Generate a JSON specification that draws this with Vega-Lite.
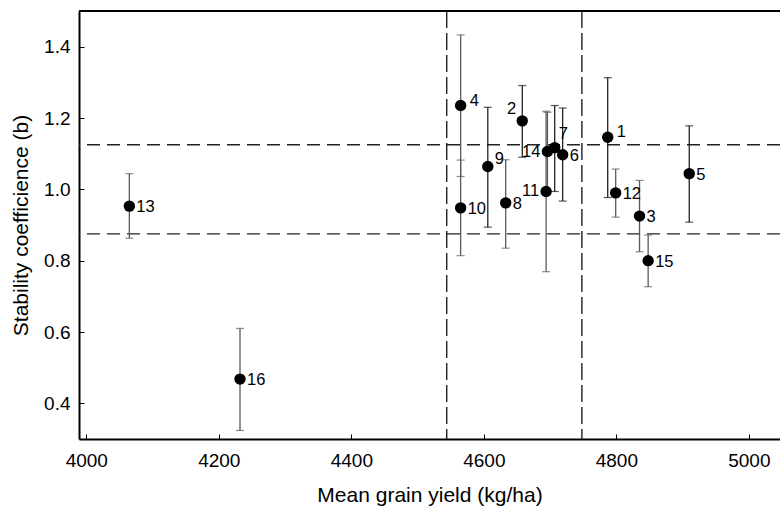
{
  "$schema": "https://vega.github.io/schema/vega-lite/v6.json",
  "autosize": {"type": "none"},
  "padding": {"left": 79, "top": 11, "right": 0, "bottom": 73},
  "width": 701,
  "height": 428,
  "background": "white",
  "config": {
    "view": {"stroke": null},
    "font": "Liberation Sans",
    "axis": {
      "domainColor": "#000", "domainWidth": 2, "tickColor": "#000", "tickWidth": 1, "tickSize": -5,
      "grid": false, "labelFont": "Liberation Sans", "labelFontSize": 19, "labelColor": "#000",
      "titleFont": "Liberation Sans", "titleFontSize": 21, "titleFontWeight": "normal", "titleColor": "#000"
    },
    "axisX": {"labelPadding": 17, "titlePadding": 14},
    "axisY": {"labelPadding": 14, "titlePadding": 12}
  },
  "data": {"values": [
    {"id": "1", "yield": 4787, "b": 1.146, "lo": 0.977, "hi": 1.313},
    {"id": "2", "yield": 4658, "b": 1.192, "lo": 1.090, "hi": 1.291},
    {"id": "3", "yield": 4835, "b": 0.925, "lo": 0.825, "hi": 1.025},
    {"id": "4", "yield": 4565, "b": 1.235, "lo": 1.036, "hi": 1.433},
    {"id": "5", "yield": 4910, "b": 1.044, "lo": 0.908, "hi": 1.178},
    {"id": "6", "yield": 4719, "b": 1.097, "lo": 0.967, "hi": 1.228},
    {"id": "7", "yield": 4707, "b": 1.117, "lo": 0.994, "hi": 1.235},
    {"id": "8", "yield": 4633, "b": 0.962, "lo": 0.835, "hi": 1.083},
    {"id": "9", "yield": 4606, "b": 1.064, "lo": 0.894, "hi": 1.230},
    {"id": "10", "yield": 4565, "b": 0.948, "lo": 0.814, "hi": 1.082},
    {"id": "11", "yield": 4694, "b": 0.994, "lo": 0.769, "hi": 1.219},
    {"id": "12", "yield": 4799, "b": 0.990, "lo": 0.922, "hi": 1.057},
    {"id": "13", "yield": 4065, "b": 0.953, "lo": 0.863, "hi": 1.044},
    {"id": "14", "yield": 4696, "b": 1.106, "lo": 0.996, "hi": 1.216},
    {"id": "15", "yield": 4848, "b": 0.800, "lo": 0.727, "hi": 0.872},
    {"id": "16", "yield": 4232, "b": 0.468, "lo": 0.324, "hi": 0.610}
  ]},
  "layer": [
    {
      "data": {"values": [{"h": 0.875}, {"h": 1.125}]},
      "mark": {"type": "rule", "color": "#222", "strokeWidth": 1.4, "strokeDash": [13, 7]},
      "encoding": {"y": {"field": "h", "type": "quantitative", "title": "Stability coefficience (b)", "scale": {"domain": [0.3, 1.5], "nice": false, "zero": false}}}
    },
    {
      "data": {"values": [{"v": 4544}, {"v": 4748}]},
      "mark": {"type": "rule", "color": "#222", "strokeWidth": 1.4, "strokeDash": [17, 5]},
      "encoding": {"x": {"field": "v", "type": "quantitative", "title": "Mean grain yield (kg/ha)", "scale": {"domain": [3989, 5047], "nice": false, "zero": false}}}
    },
    {
      "mark": {"type": "rule", "color": "#000", "strokeWidth": 2},
      "encoding": {"y": {"datum": 1.5, "type": "quantitative", "scale": {"domain": [0.3, 1.5], "nice": false, "zero": false}}}
    },
    {
      "transform": [{"filter": {"field": "id", "oneOf": ["1", "2", "5", "6", "7", "9"]}}],
      "layer": [
        {"mark": {"type": "rule", "color": "#111", "strokeWidth": 1.2},
         "encoding": {"x": {"field": "yield", "type": "quantitative", "title": "Mean grain yield (kg/ha)", "scale": {"domain": [3989, 5047], "nice": false, "zero": false}},
                      "y": {"field": "lo", "type": "quantitative", "title": "Stability coefficience (b)", "scale": {"domain": [0.3, 1.5], "nice": false, "zero": false}}, "y2": {"field": "hi"}}},
        {"mark": {"type": "tick", "color": "#111", "orient": "horizontal", "size": 8, "thickness": 1.2},
         "encoding": {"x": {"field": "yield", "type": "quantitative", "title": "Mean grain yield (kg/ha)", "scale": {"domain": [3989, 5047], "nice": false, "zero": false}},
                      "y": {"field": "lo", "type": "quantitative", "title": "Stability coefficience (b)", "scale": {"domain": [0.3, 1.5], "nice": false, "zero": false}}}},
        {"mark": {"type": "tick", "color": "#111", "orient": "horizontal", "size": 8, "thickness": 1.2},
         "encoding": {"x": {"field": "yield", "type": "quantitative", "title": "Mean grain yield (kg/ha)", "scale": {"domain": [3989, 5047], "nice": false, "zero": false}},
                      "y": {"field": "hi", "type": "quantitative", "title": "Stability coefficience (b)", "scale": {"domain": [0.3, 1.5], "nice": false, "zero": false}}}}
      ]
    },
    {
      "transform": [{"filter": {"field": "id", "oneOf": ["3", "4", "8", "10", "11", "12", "13", "14", "15", "16"]}}],
      "layer": [
        {"mark": {"type": "rule", "color": "#5a5a5a", "strokeWidth": 1.3},
         "encoding": {"x": {"field": "yield", "type": "quantitative", "title": "Mean grain yield (kg/ha)", "scale": {"domain": [3989, 5047], "nice": false, "zero": false}},
                      "y": {"field": "lo", "type": "quantitative", "title": "Stability coefficience (b)", "scale": {"domain": [0.3, 1.5], "nice": false, "zero": false}}, "y2": {"field": "hi"}}},
        {"mark": {"type": "tick", "color": "#5a5a5a", "orient": "horizontal", "size": 8, "thickness": 1.2},
         "encoding": {"x": {"field": "yield", "type": "quantitative", "title": "Mean grain yield (kg/ha)", "scale": {"domain": [3989, 5047], "nice": false, "zero": false}},
                      "y": {"field": "lo", "type": "quantitative", "title": "Stability coefficience (b)", "scale": {"domain": [0.3, 1.5], "nice": false, "zero": false}}}},
        {"mark": {"type": "tick", "color": "#5a5a5a", "orient": "horizontal", "size": 8, "thickness": 1.2},
         "encoding": {"x": {"field": "yield", "type": "quantitative", "title": "Mean grain yield (kg/ha)", "scale": {"domain": [3989, 5047], "nice": false, "zero": false}},
                      "y": {"field": "hi", "type": "quantitative", "title": "Stability coefficience (b)", "scale": {"domain": [0.3, 1.5], "nice": false, "zero": false}}}}
      ]
    },
    {
      "mark": {"type": "circle", "color": "#000", "opacity": 1, "size": 130},
      "encoding": {
        "x": {"field": "yield", "type": "quantitative", "title": "Mean grain yield (kg/ha)", "scale": {"domain": [3989, 5047], "nice": false, "zero": false},
              "axis": {"values": [4000, 4200, 4400, 4600, 4800, 5000], "format": "d"}},
        "y": {"field": "b", "type": "quantitative", "title": "Stability coefficience (b)", "scale": {"domain": [0.3, 1.5], "nice": false, "zero": false},
              "axis": {"values": [0.4, 0.6, 0.8, 1.0, 1.2, 1.4], "format": ".1f"}}
      }
    },
    {
      "transform": [{"filter": {"field": "id", "oneOf": ["3", "5", "6", "8", "10", "12", "13", "15", "16"]}}],
      "mark": {"type": "text", "align": "left", "baseline": "middle", "dx": 7, "dy": 1, "fontSize": 16.5, "color": "#000"},
      "encoding": {
        "x": {"field": "yield", "type": "quantitative", "scale": {"domain": [3989, 5047], "nice": false, "zero": false}},
        "y": {"field": "b", "type": "quantitative", "scale": {"domain": [0.3, 1.5], "nice": false, "zero": false}},
        "text": {"field": "id"}
      }
    },
    {
      "transform": [{"filter": {"field": "id", "oneOf": ["1", "4"]}}],
      "mark": {"type": "text", "align": "left", "baseline": "middle", "dx": 9, "dy": -5, "fontSize": 16.5, "color": "#000"},
      "encoding": {
        "x": {"field": "yield", "type": "quantitative", "scale": {"domain": [3989, 5047], "nice": false, "zero": false}},
        "y": {"field": "b", "type": "quantitative", "scale": {"domain": [0.3, 1.5], "nice": false, "zero": false}},
        "text": {"field": "id"}
      }
    },
    {
      "transform": [{"filter": {"field": "id", "oneOf": ["9"]}}],
      "mark": {"type": "text", "align": "left", "baseline": "middle", "dx": 7, "dy": -8, "fontSize": 16.5, "color": "#000"},
      "encoding": {
        "x": {"field": "yield", "type": "quantitative", "scale": {"domain": [3989, 5047], "nice": false, "zero": false}},
        "y": {"field": "b", "type": "quantitative", "scale": {"domain": [0.3, 1.5], "nice": false, "zero": false}},
        "text": {"field": "id"}
      }
    },
    {
      "transform": [{"filter": {"field": "id", "oneOf": ["7"]}}],
      "mark": {"type": "text", "align": "left", "baseline": "middle", "dx": 4, "dy": -14, "fontSize": 16.5, "color": "#000"},
      "encoding": {
        "x": {"field": "yield", "type": "quantitative", "scale": {"domain": [3989, 5047], "nice": false, "zero": false}},
        "y": {"field": "b", "type": "quantitative", "scale": {"domain": [0.3, 1.5], "nice": false, "zero": false}},
        "text": {"field": "id"}
      }
    },
    {
      "transform": [{"filter": {"field": "id", "oneOf": ["11", "14"]}}],
      "mark": {"type": "text", "align": "right", "baseline": "middle", "dx": -7, "dy": 0, "fontSize": 16.5, "color": "#000"},
      "encoding": {
        "x": {"field": "yield", "type": "quantitative", "scale": {"domain": [3989, 5047], "nice": false, "zero": false}},
        "y": {"field": "b", "type": "quantitative", "scale": {"domain": [0.3, 1.5], "nice": false, "zero": false}},
        "text": {"field": "id"}
      }
    },
    {
      "transform": [{"filter": {"field": "id", "oneOf": ["2"]}}],
      "mark": {"type": "text", "align": "right", "baseline": "middle", "dx": -6, "dy": -12, "fontSize": 16.5, "color": "#000"},
      "encoding": {
        "x": {"field": "yield", "type": "quantitative", "scale": {"domain": [3989, 5047], "nice": false, "zero": false}},
        "y": {"field": "b", "type": "quantitative", "scale": {"domain": [0.3, 1.5], "nice": false, "zero": false}},
        "text": {"field": "id"}
      }
    }
  ]
}
